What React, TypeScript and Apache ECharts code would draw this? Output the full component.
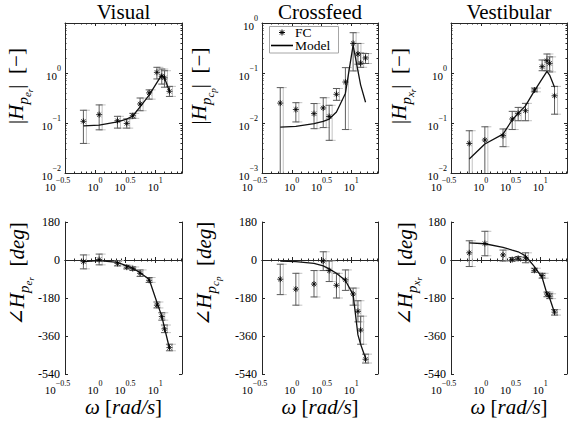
import React, { useEffect, useRef } from 'react';
import * as echarts from 'echarts';

const SERIF = '"Liberation Serif", "DejaVu Serif", "Times New Roman", serif';
const INK = '#000000';
const AXIS_INK = '#262626';
const BAR_DARK = '#5c5c5c';
const BAR_LIGHT = '#c2c2c2';

const TITLES = ['Visual', 'Crossfeed', 'Vestibular'];
const SUBSCRIPTS = [['p', 'e', 'r'], ['p', 'c', 'p'], ['p', 'x', 'r']];

// excitation frequencies [rad/s]
const FREQ = [0.64, 1.17, 2.36, 3.37, 4.24, 5.62, 7.94, 10.7, 12.9, 14.3, 17.3];

// Visual channel
const VIS_MAG = [0.108, 0.147, 0.111, 0.098, 0.14, 0.24, 0.4, 1.03, 0.86, 0.8, 0.43];
const VIS_MAG_HI = [0.18, 0.23, 0.136, 0.121, 0.156, 0.316, 0.46, 1.3, 1.2, 1.11, 0.54];
const VIS_MAG_LO = [0.039, 0.073, 0.079, 0.079, 0.124, 0.176, 0.3, 0.76, 0.6, 0.52, 0.34];
const VIS_MAG_MODEL = [0.088, 0.091, 0.105, 0.12, 0.138, 0.21, 0.36, 0.64, 0.92, 0.8, 0.43];
const VIS_PH = [-8, 2, -16, -34, -41, -63, -96, -214, -268, -326, -415];
const VIS_PH_HI = [24, 28, -3, -25, -33, -47, -83, -199, -250, -308, -399];
const VIS_PH_LO = [-42, -23, -28, -42, -49, -78, -106, -227, -285, -344, -430];
const VIS_PH_MODEL = [-8, -3, -11, -28, -39, -60, -91, -200, -266, -321, -418];

// Crossfeed channel
const CF_MAG = [0.025, 0.0186, 0.0154, 0.02, 0.0135, 0.0375, 0.066, 0.39, 0.24, 0.158, 0.2];
const CF_MAG_HI = [0.051, 0.0255, 0.0245, 0.032, 0.0226, 0.049, 0.128, 0.64, 0.39, 0.25, 0.245];
const CF_MAG_LO = [0.0005, 0.0105, 0.0077, 0.0081, 0.0045, 0.0284, 0.0074, 0.11, 0.15, 0.13, 0.155];
const CF_MAG_MODEL = [0.0083, 0.0086, 0.0097, 0.0108, 0.012, 0.0166, 0.039, 0.36, 0.11, 0.058, 0.026];
const CF_PH = [-91, -138, -114, -5, -50, -120, -94, -161, -243, -332, -470];
const CF_PH_HI = [-20, -63, -50, 39, -5, -63, -47, -133, -193, -266, -446];
const CF_PH_LO = [-164, -214, -175, -50, -102, -180, -144, -214, -293, -399, -488];
const CF_PH_MODEL = [-5, -8, -16, -28, -42, -63, -97, -164, -355, -399, -465];

// Vestibular channel
const VE_MAG = [0.039, 0.0457, 0.0557, 0.12, 0.156, 0.176, 0.457, 1.34, 1.76, 1.56, 0.35];
const VE_MAG_HI = [0.07, 0.084, 0.076, 0.171, 0.205, 0.247, 0.5, 1.82, 2.4, 2.1, 0.54];
const VE_MAG_LO = [0.005, 0.005, 0.0336, 0.074, 0.111, 0.111, 0.42, 1.11, 1.11, 1.05, 0.15];
const VE_MAG_MODEL = [0.019, 0.038, 0.06, 0.115, 0.156, 0.22, 0.44, 0.76, 1.08, 0.91, 0.52];
const VE_PH = [34, 78, 24, 2, 8, 11, -49, -74, -161, -171, -247];
const VE_PH_HI = [91, 136, 47, 11, 16, 34, -39, -63, -152, -160, -235];
const VE_PH_LO = [-31, 20, -5, -5, 2, -13, -58, -86, -174, -183, -261];
const VE_PH_MODEL = [81, 77, 60, 47, 39, 20, -31, -83, -160, -180, -250];

// axis ranges
const FREQ_MIN = Math.pow(10, -0.5);
const FREQ_MAX = 28;
const MAG_LIMITS = [[0.01, 10], [0.001, 1], [0.01, 10]];
const MAG_HIDE_FROM_EXP = [1, 5, 1];
const PHASE_MIN = -540;
const PHASE_MAX = 180;
const PHASE_STEP = 180;

const PANELS = [
  { y: VIS_MAG, hi: VIS_MAG_HI, lo: VIS_MAG_LO, model: VIS_MAG_MODEL },
  { y: CF_MAG, hi: CF_MAG_HI, lo: CF_MAG_LO, model: CF_MAG_MODEL },
  { y: VE_MAG, hi: VE_MAG_HI, lo: VE_MAG_LO, model: VE_MAG_MODEL },
  { y: VIS_PH, hi: VIS_PH_HI, lo: VIS_PH_LO, model: VIS_PH_MODEL },
  { y: CF_PH, hi: CF_PH_HI, lo: CF_PH_LO, model: CF_PH_MODEL },
  { y: VE_PH, hi: VE_PH_HI, lo: VE_PH_LO, model: VE_PH_MODEL },
];

// layout
const COL_LEFT = [65, 262, 451];
const COL_WIDTH = [117, 116, 116];
const ROW_TOP = [23, 222];
const ROW_HEIGHT = [150, 152];
const ROW_XLABEL_MARGIN = [3, 5];

const STAR = 'path://M0,-3L0,3M-3,0L3,0M-2.1,-2.1L2.1,2.1M-2.1,2.1L2.1,-2.1';

const sup = (n: number) => String(n).replace('-', '\u2212');

const POW_RICH: any = {
  pb: { fontFamily: SERIF, fontSize: 11, color: INK, verticalAlign: 'top', padding: [5.5, 0, 0, 0] },
  ps: { fontFamily: SERIF, fontSize: 8, color: INK, verticalAlign: 'top' },
  psl: { fontFamily: SERIF, fontSize: 8, color: INK, verticalAlign: 'top', padding: [0, 15, 0, 0] },
};

const xFmt = (v: number) => {
  const e = Math.log10(v);
  const r = Math.round(e * 2) / 2;
  if (Math.abs(e - r) > 1e-3) return '';
  if (r === -0.5) return `{pb|10}{psl|${sup(r)}}`;
  return `{pb|10}{ps|${sup(r)}}`;
};

const yFmt = (hideFrom: number) => (v: number) => {
  const e = Math.log10(v);
  const r = Math.round(e);
  if (Math.abs(e - r) > 1e-3) return '';
  if (r >= hideFrom) return '';
  return `{pb|10}{ps|${sup(r)}}`;
};

const LABEL_RICH: any = {
  n: { fontFamily: SERIF, fontSize: 21, fill: INK, verticalAlign: 'top' },
  i: { fontFamily: SERIF, fontSize: 21, fontStyle: 'italic', fill: INK, verticalAlign: 'top' },
  s1: { fontFamily: SERIF, fontSize: 15, fontStyle: 'italic', fill: INK, verticalAlign: 'top', padding: [10, 0, 0, 0] },
  s2: { fontFamily: SERIF, fontSize: 11, fontStyle: 'italic', fill: INK, verticalAlign: 'top', padding: [16.4, 0, 0, 0] },
  s3: { fontFamily: SERIF, fontSize: 9, fontStyle: 'italic', fill: INK, verticalAlign: 'top', padding: [20.5, 0, 0, 0] },
};

const XL_RICH: any = {
  n: { fontFamily: SERIF, fontSize: 21, fill: INK },
  i: { fontFamily: SERIF, fontSize: 21, fontStyle: 'italic', fill: INK },
};

const mkBars = (color: string, dx: number) => (params: any, api: any) => {
  const x = api.value(0);
  const lo = api.value(1);
  const hi = api.value(2);
  const a = api.coord([x, hi]);
  const b = api.coord([x, lo]);
  const px = a[0] + dx;
  const w = 3.5;
  const st = { stroke: color, lineWidth: 1, fill: 'none' };
  return {
    type: 'group',
    children: [
      { type: 'line', shape: { x1: px, y1: a[1], x2: px, y2: b[1] }, style: st },
      { type: 'line', shape: { x1: px - w, y1: a[1], x2: px + w, y2: a[1] }, style: st },
      { type: 'line', shape: { x1: px - w, y1: b[1], x2: px + w, y2: b[1] }, style: st },
    ],
  };
};

function buildOption() {
  const grid: any[] = [];
  const xAxis: any[] = [];
  const yAxis: any[] = [];
  const series: any[] = [];
  const graphic: any[] = [];
  const title: any[] = [];

  for (let i = 0; i < 6; i++) {
    const col = i % 3;
    const row = Math.floor(i / 3);
    grid.push({ left: COL_LEFT[col], top: ROW_TOP[row], width: COL_WIDTH[col], height: ROW_HEIGHT[row], containLabel: false });

    const xBase = {
      type: 'log',
      logBase: Math.sqrt(10),
      gridIndex: i,
      min: FREQ_MIN,
      max: FREQ_MAX,
      axisLine: { show: true, lineStyle: { color: AXIS_INK, width: 1 } },
      axisTick: { show: true, inside: true, length: 3, lineStyle: { color: AXIS_INK } },
      minorTick: { show: true, splitNumber: 5, length: 1.5, lineStyle: { color: AXIS_INK } },
      splitLine: { show: false },
      minorSplitLine: { show: false },
    };
    xAxis.push({
      ...xBase,
      position: 'bottom',
      axisLabel: {
        show: true,
        margin: ROW_XLABEL_MARGIN[row],
        formatter: xFmt,
        rich: POW_RICH,
        color: INK,
        fontFamily: SERIF,
        showMinLabel: true,
        showMaxLabel: false,
        hideOverlap: false,
      },
    });
    xAxis.push({ ...xBase, position: 'top', axisLabel: { show: false } });

    let yBase: any;
    let yLabel: any;
    if (row === 0) {
      yBase = {
        type: 'log',
        logBase: 10,
        min: MAG_LIMITS[col][0],
        max: MAG_LIMITS[col][1],
        minorTick: { show: true, splitNumber: 9, length: 1.5, lineStyle: { color: AXIS_INK } },
      };
      yLabel = {
        show: true,
        margin: 4,
        formatter: yFmt(MAG_HIDE_FROM_EXP[col]),
        rich: POW_RICH,
        color: INK,
        fontFamily: SERIF,
        showMinLabel: true,
        showMaxLabel: true,
      };
    } else {
      yBase = { type: 'value', min: PHASE_MIN, max: PHASE_MAX, interval: PHASE_STEP };
      yLabel = {
        show: true,
        margin: 5,
        color: INK,
        fontFamily: SERIF,
        fontSize: 12,
        lineHeight: 10,
        showMinLabel: true,
        showMaxLabel: true,
        formatter: (v: number) => String(v),
      };
    }
    const yCommon = {
      ...yBase,
      gridIndex: i,
      axisLine: { show: true, lineStyle: { color: AXIS_INK, width: 1 } },
      axisTick: { show: true, inside: true, length: 3, lineStyle: { color: AXIS_INK } },
      splitLine: { show: false },
      minorSplitLine: { show: false },
    };
    yAxis.push({ ...yCommon, position: 'left', axisLabel: yLabel });
    yAxis.push({ ...yCommon, position: 'right', axisLabel: { show: false } });

    const p = PANELS[i];
    const barData = FREQ.map((f, k) => [f, p.lo[k], p.hi[k]]);
    series.push({
      type: 'custom',
      name: 'FC range (light)',
      xAxisIndex: 2 * i,
      yAxisIndex: 2 * i,
      clip: true,
      silent: true,
      z: 1,
      encode: { x: 0, y: [1, 2] },
      renderItem: mkBars(BAR_LIGHT, 3),
      data: barData,
    });
    series.push({
      type: 'custom',
      name: 'FC range',
      xAxisIndex: 2 * i,
      yAxisIndex: 2 * i,
      clip: true,
      silent: true,
      z: 2,
      encode: { x: 0, y: [1, 2] },
      renderItem: mkBars(BAR_DARK, 0),
      data: barData,
    });
    series.push({
      type: 'line',
      name: 'Model',
      xAxisIndex: 2 * i,
      yAxisIndex: 2 * i,
      symbol: 'none',
      clip: true,
      z: 3,
      lineStyle: { color: '#111111', width: 1.3 },
      data: FREQ.map((f, k) => [f, p.model[k]]),
    });
    series.push({
      type: 'scatter',
      name: 'FC',
      xAxisIndex: 2 * i,
      yAxisIndex: 2 * i,
      symbol: STAR,
      symbolSize: 6,
      z: 4,
      itemStyle: { color: INK, borderColor: INK, borderWidth: 1 },
      data: FREQ.map((f, k) => [f, p.y[k]]),
    });
  }

  const colCenter = [0, 1, 2].map((c) => COL_LEFT[c] + COL_WIDTH[c] / 2);

  TITLES.forEach((t, c) => {
    title.push({
      text: t,
      left: colCenter[c],
      top: 11.5,
      textAlign: 'center',
      textVerticalAlign: 'middle',
      padding: 0,
      textStyle: { fontFamily: SERIF, fontSize: 21, fontWeight: 'normal', color: INK },
    });
  });

  const topLabelX = [20, 203, 403];
  const botLabelX = [21, 208, 409];
  SUBSCRIPTS.forEach((s, c) => {
    graphic.push({
      type: 'text',
      x: topLabelX[c],
      y: 86,
      rotation: Math.PI / 2,
      style: {
        text: `{n||}{i|H}{s1|${s[0]}}{s2|${s[1]}}{s3|${s[2]}}{n||  [\u2212]}`,
        rich: LABEL_RICH,
        align: 'center',
        verticalAlign: 'middle',
        textAlign: 'center',
        textVerticalAlign: 'middle',
        fill: INK,
      },
    });
    graphic.push({
      type: 'text',
      x: botLabelX[c],
      y: 274,
      rotation: Math.PI / 2,
      style: {
        text: `{n|\u2220}{i|H}{s1|${s[0]}}{s2|${s[1]}}{s3|${s[2]}}{n|  [}{i|deg}{n|]}`,
        rich: LABEL_RICH,
        align: 'center',
        verticalAlign: 'middle',
        textAlign: 'center',
        textVerticalAlign: 'middle',
        fill: INK,
      },
    });
    graphic.push({
      type: 'text',
      x: colCenter[c],
      y: 407,
      style: {
        text: '{i|\u03c9}{n| [}{i|rad/s}{n|]}',
        rich: XL_RICH,
        align: 'center',
        verticalAlign: 'middle',
        textAlign: 'center',
        textVerticalAlign: 'middle',
        fill: INK,
      },
    });
  });

  // legend box in the Crossfeed magnitude panel
  const lx = 269.5;
  const ly = 26.5;
  graphic.push({ type: 'rect', z: 100, shape: { x: lx, y: ly, width: 69, height: 26.5 }, style: { fill: '#ffffff', stroke: '#a6a6a6', lineWidth: 1 } });
  const sx = 282;
  const sy = 32.5;
  const arms = [[0, -3, 0, 3], [-3, 0, 3, 0], [-2.1, -2.1, 2.1, 2.1], [-2.1, 2.1, 2.1, -2.1]];
  arms.forEach((a) => {
    graphic.push({ type: 'line', z: 101, shape: { x1: sx + a[0], y1: sy + a[1], x2: sx + a[2], y2: sy + a[3] }, style: { stroke: INK, lineWidth: 1 } });
  });
  graphic.push({ type: 'text', z: 101, x: 295, y: 32.25, style: { text: 'FC', fontFamily: SERIF, fontSize: 13.5, fill: INK, verticalAlign: 'middle', textVerticalAlign: 'middle' } });
  graphic.push({ type: 'line', z: 101, shape: { x1: 271, y1: 45.5, x2: 293, y2: 45.5 }, style: { stroke: INK, lineWidth: 1.6 } });
  graphic.push({ type: 'text', z: 101, x: 295, y: 45.75, style: { text: 'Model', fontFamily: SERIF, fontSize: 13.5, fill: INK, verticalAlign: 'middle', textVerticalAlign: 'middle' } });

  return {
    animation: false,
    backgroundColor: '#ffffff',
    textStyle: { fontFamily: SERIF },
    title,
    grid,
    xAxis,
    yAxis,
    series,
    graphic,
  };
}

export default function App() {
  const ref = useRef<HTMLDivElement>(null);
  useEffect(() => {
    document.body.style.margin = '0';
    const chart = echarts.init(ref.current as HTMLDivElement, null, { renderer: 'svg' });
    chart.setOption(buildOption() as any);
    return () => {
      chart.dispose();
    };
  }, []);
  return <div ref={ref} style={{ width: 568, height: 421 }} />;
}
